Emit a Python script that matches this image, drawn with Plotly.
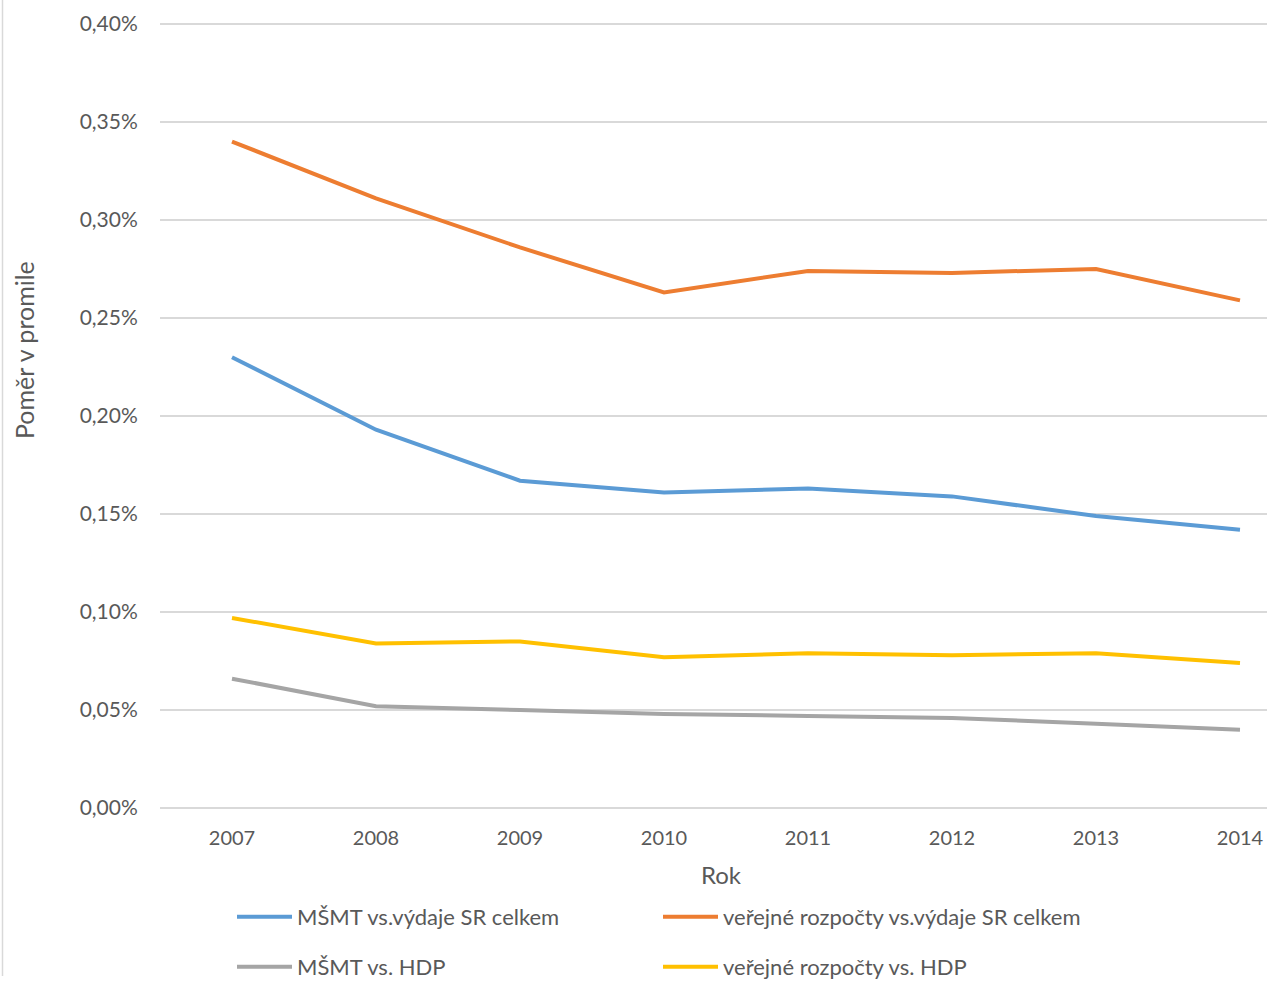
import plotly.graph_objects as go

years = [2007, 2008, 2009, 2010, 2011, 2012, 2013, 2014]
msmt_vydaje = [0.230, 0.193, 0.167, 0.161, 0.163, 0.159, 0.149, 0.142]
verejne_vydaje = [0.340, 0.311, 0.286, 0.263, 0.274, 0.273, 0.275, 0.259]
msmt_hdp = [0.066, 0.052, 0.050, 0.048, 0.047, 0.046, 0.043, 0.040]
verejne_hdp = [0.097, 0.084, 0.085, 0.077, 0.079, 0.078, 0.079, 0.074]

y_tickvals = [0.0, 0.05, 0.10, 0.15, 0.20, 0.25, 0.30, 0.35, 0.40]
y_ticktext = ["0,00%", "0,05%", "0,10%", "0,15%", "0,20%", "0,25%", "0,30%", "0,35%", "0,40%"]
x_ticktext = [str(y) for y in years]

names = ["MŠMT vs.výdaje SR celkem", "veřejné rozpočty vs.výdaje SR celkem",
         "MŠMT vs. HDP", "veřejné rozpočty vs. HDP"]
colors = ["#5B9BD5", "#ED7D31", "#A5A5A5", "#FFC000"]

W, H = 1267, 981
pad = 0.002
y0_ref, y40_ref = 808, 24
scale = (y0_ref - y40_ref) / 0.40
T = int(round(y40_ref - pad * scale))
B = int(round(H - (y0_ref + pad * scale)))
L, R = 160, 0
pw = W - L - R
ph = H - T - B

def px(x):
    return (x - L) / pw

def py(y):
    return (H - B - y) / ph

FONT = "Lato"
TXT = "#595959"

fig = go.Figure()
series = [msmt_vydaje, verejne_vydaje, msmt_hdp, verejne_hdp]
legends = ["legend", "legend", "legend2", "legend2"]
for s, n, c, lg in zip(series, names, colors, legends):
    fig.add_trace(go.Scatter(x=years, y=s, name=n, mode="lines",
                             line=dict(color=c, width=4), legend=lg))

legend_common = dict(orientation="h", xanchor="left", yanchor="middle",
                     font=dict(family=FONT, size=22, color=TXT),
                     entrywidth=356, entrywidthmode="pixels",
                     bgcolor="rgba(0,0,0,0)", itemwidth=55)
fig.update_layout(
    width=W, height=H,
    margin=dict(l=L, r=R, t=T, b=B, autoexpand=False),
    paper_bgcolor="white", plot_bgcolor="white",
    font=dict(family=FONT, size=20, color=TXT),
    showlegend=True,
    legend=dict(x=px(232), y=py(917), **legend_common),
    legend2=dict(x=px(232), y=py(967), **legend_common),
    xaxis=dict(range=[2006.5, 2006.5 + pw / 144.0], tickvals=years, ticktext=x_ticktext,
               showgrid=False, zeroline=False, showline=False, automargin=False,
               tickfont=dict(family=FONT, size=20, color=TXT),
               ticks="outside", ticklen=8, tickcolor="rgba(0,0,0,0)"),
    yaxis=dict(range=[-pad, 0.40 + pad], tickvals=y_tickvals, ticktext=y_ticktext,
               showgrid=True, gridcolor="#D9D9D9", gridwidth=1.5,
               zeroline=False, showline=False, automargin=False,
               tickfont=dict(family=FONT, size=21, color=TXT),
               ticks="outside", ticklen=17, tickcolor="rgba(0,0,0,0)"),
    annotations=[
        dict(text="Rok", xref="paper", yref="paper", x=px(721), y=py(874),
             showarrow=False, font=dict(family=FONT, size=24, color=TXT),
             xanchor="center", yanchor="middle"),
        dict(text="Poměr v promile", xref="paper", yref="paper", x=px(24), y=py(350),
             showarrow=False, textangle=-90, font=dict(family=FONT, size=25, color=TXT),
             xanchor="center", yanchor="middle"),
    ],
    shapes=[dict(type="line", xref="paper", yref="paper", x0=px(2.5), x1=px(2.5),
                 y0=py(976), y1=py(0), line=dict(color="#D9D9D9", width=1.5))],
)

fig.write_html("out.html", config={"displayModeBar": False},
               post_script="document.body.style.margin='0';document.body.style.overflow='hidden';")
